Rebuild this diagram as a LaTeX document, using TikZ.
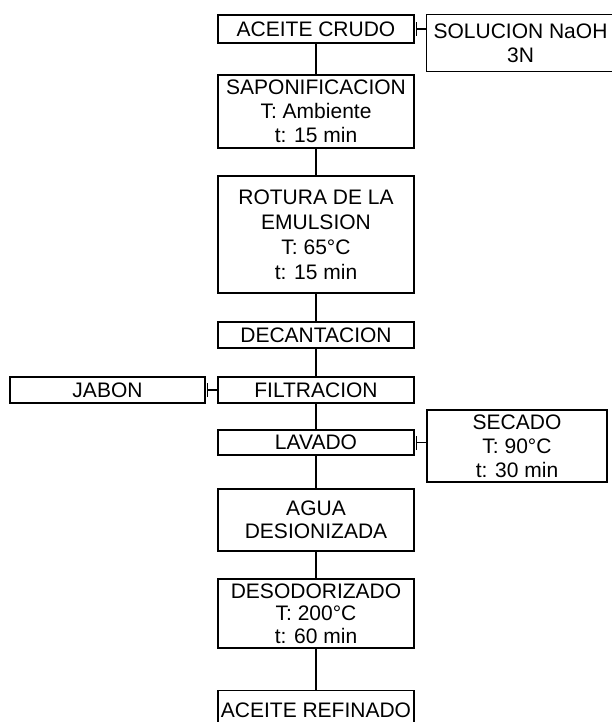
\documentclass[tikz,border=0pt]{standalone}
\usepackage{fontspec}
\setmainfont{Liberation Sans}
\begin{document}
\begin{tikzpicture}[x=1pt,y=-1pt,
  box/.style={draw=black, line width=1.4pt, rectangle, inner sep=0pt, align=center,
    minimum width=196pt, font=\fontsize{21}{24}\selectfont},
  link/.style={draw=black, line width=1.4pt}]
\useasboundingbox (0,0) rectangle (611,722);
% main column
\node[box, minimum height=28pt] (crudo) at (316,29) {ACEITE CRUDO};
\node[box, draw=none, minimum width=187pt, minimum height=56pt] (naoh) at (520.5,43) {SOLUCION NaOH\\3N};
\draw[link] (naoh.north east) ++(15,0) -- (naoh.north west) -- (naoh.south west) -- ++(202,0);
\node[box, minimum height=73pt] (sapon) at (316,111.5) {SAPONIFICACION\\T: Ambiente\\t: 15 min};
\node[box, minimum height=117pt, font=\fontsize{21}{25}\selectfont] (rotura) at (316,234.5) {ROTURA DE LA\\EMULSION\\T: 65°C\\t: 15 min};
\node[box, minimum height=26pt] (decant) at (316,335) {DECANTACION};
\node[box, minimum height=26pt] (filtr) at (316,390) {FILTRACION};
\node[box, minimum width=195pt, minimum height=26pt] (jabon) at (107.5,390) {JABON};
\node[box, minimum height=25pt] (lavado) at (316,442.5) {LAVADO};
\node[box, minimum width=180pt, minimum height=72pt] (secado) at (517,446) {SECADO\\T: 90°C\\t: 30 min};
\node[box, minimum height=62pt, font=\fontsize{21}{23}\selectfont] (agua) at (316,520) {AGUA\\DESIONIZADA};
\node[box, minimum height=69pt, font=\fontsize{21}{22.5}\selectfont] (desod) at (316,613.5) {DESODORIZADO\\T: 200°C\\t: 60 min};
\node[box, minimum height=40pt, anchor=north] (refin) at (316,690) {ACEITE REFINADO};
% vertical connectors
\draw[link] (crudo.south) -- (sapon.north);
\draw[link] (sapon.south) -- (rotura.north);
\draw[link] (rotura.south) -- (decant.north);
\draw[link] (decant.south) -- (filtr.north);
\draw[link] (filtr.south) -- (lavado.north);
\draw[link] (lavado.south) -- (agua.north);
\draw[link] (agua.south) -- (desod.north);
\draw[link] (desod.south) -- (refin.north);
% side connectors with ticks
\draw[link] ([xshift=2pt]crudo.east) -- (naoh.west |- crudo.east);
\draw[link] ([xshift=2pt,yshift=-7pt]crudo.east) -- ([xshift=2pt,yshift=7pt]crudo.east);
\draw[link] ([xshift=2pt]jabon.east) -- (filtr.west);
\draw[link] ([xshift=2pt,yshift=-7pt]jabon.east) -- ([xshift=2pt,yshift=7pt]jabon.east);
\draw[link] ([xshift=2pt]lavado.east) -- (secado.west |- lavado.east);
\draw[link] ([xshift=2pt,yshift=-7pt]lavado.east) -- ([xshift=2pt,yshift=7pt]lavado.east);
\end{tikzpicture}
\end{document}
